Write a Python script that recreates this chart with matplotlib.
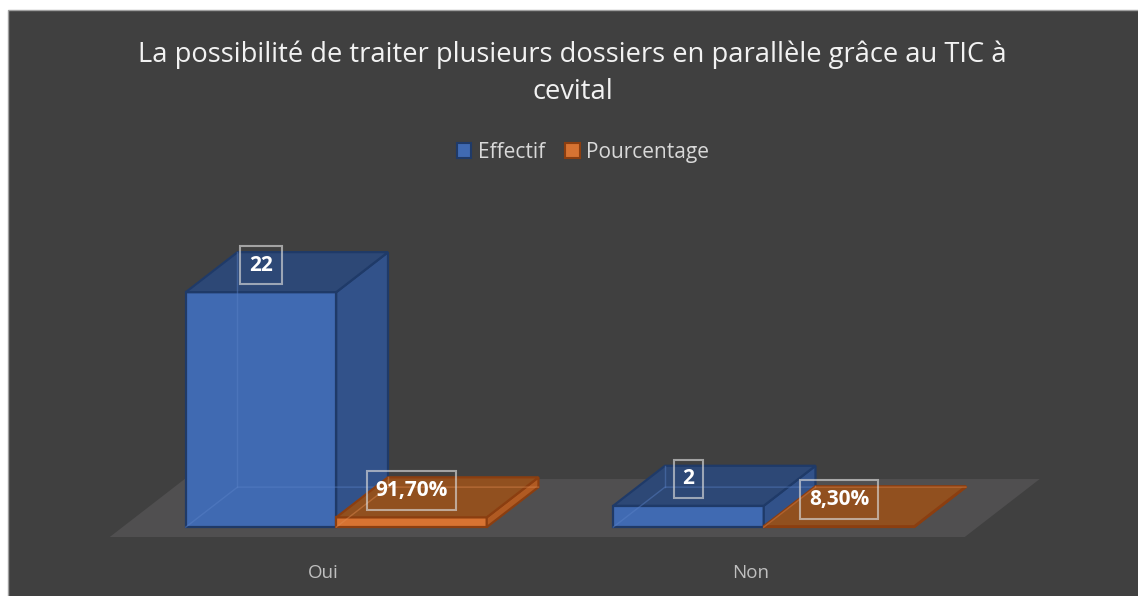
import matplotlib
matplotlib.use("Agg")
import matplotlib.pyplot as plt
from matplotlib.patches import Polygon, Rectangle, Patch

# Données du graphique
categories = ["Oui", "Non"]
effectif = [22, 2]
pourcentage = [0.917, 0.083]
labels_effectif = ["22", "2"]
labels_pourcentage = ["91,70%", "8,30%"]
series = ["Effectif", "Pourcentage"]

W, H = 1138, 596
BG = "#404040"

# Perspective (pseudo 3D façon Excel)
DDX, DDY = 0.1754, 5.43      # décalage pour une profondeur complète
D0, D1 = 0.17, 0.86          # profondeur occupée par les barres
BAR_W = 0.352

styles = {
    "Effectif": dict(front="#406AB2", side="#32528A", top="#2D4876",
                     edge="#1F3A68", hidden="#5A82C8"),
    "Pourcentage": dict(front="#D77332", side="#B05A22", top="#91501F",
                        edge="#8B3E10", hidden="#E08A50"),
}


def proj(x, v, d):
    return (x + d * DDX, v + d * DDY)


def draw_bar(ax, x0, x1, h, st, z):
    front = [proj(x0, 0, D0), proj(x1, 0, D0), proj(x1, h, D0), proj(x0, h, D0)]
    side = [proj(x1, 0, D0), proj(x1, 0, D1), proj(x1, h, D1), proj(x1, h, D0)]
    top = [proj(x0, h, D0), proj(x1, h, D0), proj(x1, h, D1), proj(x0, h, D1)]
    for face, fc in ((front, st["front"]), (side, st["side"]), (top, st["top"])):
        ax.add_patch(Polygon(face, closed=True, fc=fc, ec=st["edge"], lw=1.6,
                             joinstyle="miter", zorder=z))
    # arêtes cachées (barres semi-transparentes)
    hx, hy = zip(proj(x1, 0, D1), proj(x0, 0, D1), proj(x0, 0, D0))
    ax.plot(hx, hy, color=st["hidden"], lw=1, alpha=0.45, zorder=z + 0.5)
    vx, vy = zip(proj(x0, 0, D1), proj(x0, h, D1))
    ax.plot(vx, vy, color=st["hidden"], lw=1, alpha=0.45, zorder=z + 0.5)


fig = plt.figure(figsize=(W / 100, H / 100), dpi=100, facecolor="white")
fig.patches.append(Rectangle((8 / W, -0.05), 1.0, (H - 10) / H + 0.05,
                             transform=fig.transFigure, fc=BG, ec="#a0a0a0",
                             lw=1, zorder=-10))

ax = fig.add_axes([0, 0, 1, 1])
ax.set_xlim(-0.7567, 1.9053)
ax.set_ylim(-5.524, 50.28)
ax.axis("off")

# Plancher
n = len(categories)
floor = [proj(-0.5, 0, 0), proj(n - 0.5, 0, 0), proj(n - 0.5, 0, 1), proj(-0.5, 0, 1)]
ax.add_patch(Polygon(floor, closed=True, fc="#504F50", ec="none", zorder=1))

# Barres
z = 2
for i, cat in enumerate(categories):
    for j, (name, vals, labs) in enumerate(((series[0], effectif, labels_effectif),
                                            (series[1], pourcentage, labels_pourcentage))):
        x0 = i - BAR_W + j * BAR_W
        x1 = x0 + BAR_W
        draw_bar(ax, x0, x1, vals[i], styles[name], z)
        ax.annotate(labs[i], xy=proj((x0 + x1) / 2, vals[i], D0),
                    xytext=(0, 27), textcoords="offset pixels",
                    ha="center", va="center", fontsize=15, fontweight="bold",
                    family="Open Sans", color="white", zorder=50,
                    bbox=dict(boxstyle="square,pad=0.42", fc="none",
                              ec=(0.85, 0.85, 0.85, 0.65), lw=1.5))
        z += 2
    ax.text(i, -3.37, cat, ha="center", va="center", fontsize=13.5,
            color="#BFBFBF", family="Open Sans")

# Titre
fig.text(0.503, 1 - 55 / H,
         "La possibilité de traiter plusieurs dossiers en parallèle grâce au TIC à",
         ha="center", va="center", fontsize=19.7, color="#F2F2F2", family="Open Sans")
fig.text(0.503, 1 - 92 / H, "cevital", ha="center", va="center",
         fontsize=19.7, color="#F2F2F2", family="Open Sans")

# Légende
handles = [Patch(fc=styles[s]["front"], ec=styles[s]["edge"], lw=1.5, label=s) for s in series]
leg = fig.legend(handles=handles, loc="center", bbox_to_anchor=(583 / W, 1 - 152 / H),
                 ncol=2, frameon=False, handlelength=0.7,
                 handleheight=0.7, handletextpad=0.3, columnspacing=1.0,
                 prop={"family": "Open Sans", "size": 15})
for t in leg.get_texts():
    t.set_color("#D9D9D9")

fig.savefig("out.png", dpi=100, facecolor=fig.get_facecolor())
